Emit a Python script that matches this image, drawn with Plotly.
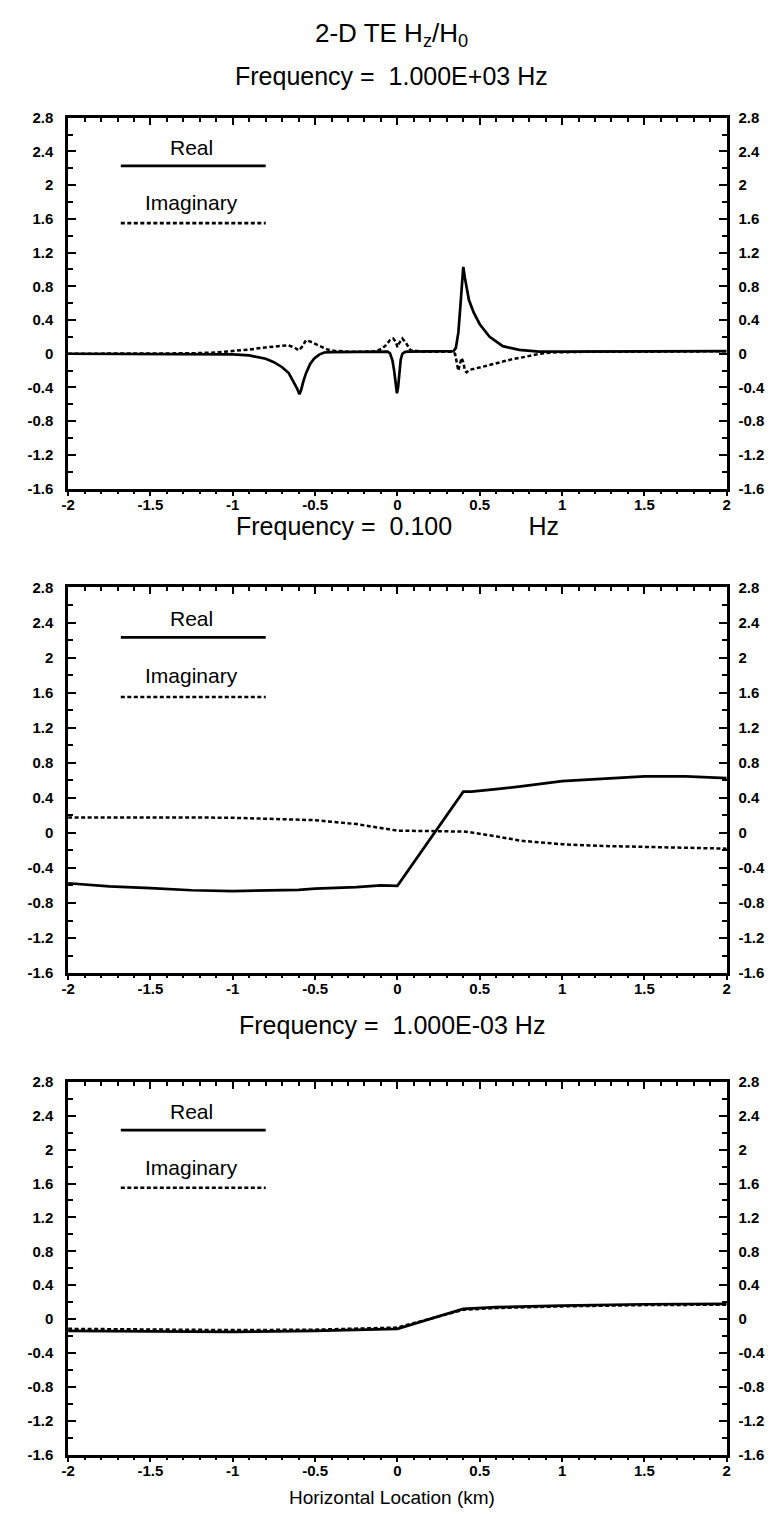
import plotly.graph_objects as go

# ---- Hz/H0 profiles across the 2-D TE model (x in km) ----
# f = 1.000E+03 Hz
X_F1_REAL = [-2.0, -1.5, -1.2, -1.0, -0.9, -0.8, -0.75, -0.70, -0.66, -0.63, -0.61, -0.595,
             -0.585, -0.57, -0.555, -0.53, -0.505, -0.475, -0.445, -0.40, -0.3, -0.2, -0.1,
             -0.06, -0.045, -0.03, -0.02, -0.01, -0.003, 0.004, 0.011, 0.02, 0.03, 0.045,
             0.06, 0.1, 0.2, 0.30, 0.34, 0.355, 0.37, 0.38, 0.39, 0.40, 0.41, 0.42, 0.434,
             0.463, 0.50, 0.56, 0.64, 0.74, 0.86, 1.0, 1.5, 2.0]
HZ_F1_REAL = [0.0, 0.0, -0.002, -0.008, -0.02, -0.06, -0.1, -0.16, -0.23, -0.33, -0.41, -0.48,
              -0.43, -0.32, -0.23, -0.12, -0.055, -0.01, 0.015, 0.02, 0.02, 0.02, 0.025,
              0.025, 0.005, -0.08, -0.2, -0.36, -0.47, -0.4, -0.2, -0.07, 0.0, 0.02,
              0.025, 0.025, 0.025, 0.025, 0.03, 0.07, 0.25, 0.5, 0.82, 1.03, 0.9, 0.78, 0.64,
              0.49, 0.35, 0.2, 0.09, 0.045, 0.025, 0.025, 0.025, 0.03]
X_F1_IMAG = [-2.0, -1.5, -1.25, -1.1, -1.0, -0.9, -0.8, -0.72, -0.665, -0.625, -0.6, -0.58,
             -0.555, -0.53, -0.505, -0.465, -0.425, -0.385, -0.3, -0.2, -0.13, -0.096,
             -0.07, -0.046, -0.025, -0.01, 0.0, 0.012, 0.03, 0.048, 0.065, 0.08, 0.15, 0.25,
             0.33, 0.35, 0.36, 0.37, 0.38, 0.39, 0.40, 0.41, 0.42, 0.44, 0.527, 0.6, 0.687,
             0.78, 0.85, 0.93, 1.2, 1.6, 2.0]
HZ_F1_IMAG = [0.0, 0.0, 0.005, 0.015, 0.03, 0.05, 0.075, 0.095, 0.1, 0.075, 0.04, 0.08,
              0.16, 0.145, 0.12, 0.08, 0.05, 0.035, 0.025, 0.025, 0.03, 0.06,
              0.1, 0.16, 0.18, 0.14, 0.08, 0.13, 0.18, 0.14, 0.08, 0.04, 0.025, 0.025,
              0.025, 0.0, -0.1, -0.2, -0.12, -0.05, -0.1, -0.2, -0.22, -0.19, -0.15, -0.11,
              -0.07, -0.035, -0.005, 0.015, 0.025, 0.025, 0.03]

# f = 0.100 Hz
X_F2 = [-2.0, -1.75, -1.5, -1.25, -1.0, -0.75, -0.6, -0.5, -0.25, -0.1, 0.0, 0.4, 0.45,
        0.6, 0.75, 1.0, 1.25, 1.5, 1.75, 2.0]
HZ_F2_REAL = [-0.575, -0.61, -0.63, -0.655, -0.665, -0.66, -0.65, -0.636, -0.62, -0.6,
              -0.605, 0.47, 0.47, 0.5, 0.53, 0.59, 0.62, 0.645, 0.645, 0.625]
HZ_F2_IMAG = [0.175, 0.178, 0.178, 0.176, 0.172, 0.16, 0.15, 0.145, 0.1, 0.05,
              0.025, 0.015, 0.005, -0.04, -0.09, -0.13, -0.15, -0.16, -0.17, -0.18]

# f = 1.000E-03 Hz
X_F3 = [-2.0, -1.5, -1.0, -0.5, 0.0, 0.4, 0.6, 1.0, 1.5, 2.0]
HZ_F3_REAL = [-0.14, -0.145, -0.15, -0.14, -0.115, 0.12, 0.14, 0.16, 0.175, 0.18]
HZ_F3_IMAG = [-0.115, -0.125, -0.13, -0.125, -0.1, 0.11, 0.13, 0.15, 0.165, 0.17]

PANELS = [
    ("Frequency =  1.000E+03 Hz", X_F1_REAL, HZ_F1_REAL, X_F1_IMAG, HZ_F1_IMAG),
    ("Frequency =  0.100" + "\u00a0" * 11 + "Hz", X_F2, HZ_F2_REAL, X_F2, HZ_F2_IMAG),
    ("Frequency =  1.000E-03 Hz", X_F3, HZ_F3_REAL, X_F3, HZ_F3_IMAG),
]

Y_TICKS = [-1.6, -1.2, -0.8, -0.4, 0.0, 0.4, 0.8, 1.2, 1.6, 2.0, 2.4, 2.8]
Y_TICK_TEXT = ["-1.6", "-1.2", "-0.8", "-0.4", "0", "0.4", "0.8", "1.2", "1.6", "2", "2.4", "2.8"]
X_TICKS = [-2.0, -1.5, -1.0, -0.5, 0.0, 0.5, 1.0, 1.5, 2.0]
X_TICK_TEXT = ["-2", "-1.5", "-1", "-0.5", "0", "0.5", "1", "1.5", "2"]
SERIES_NAMES = ["Real", "Imaginary"]

W, H = 780, 1519
FONT = "Liberation Sans"
INK = "#000000"
IMAG_DASH = "4px,2.5px"


def py(px):
    """Pixel row -> paper fraction."""
    return 1 - px / H


X_DOMAIN = [62 / W, 730 / W]
PANEL_ROWS = [(110, 485), (585, 975), (1085, 1462)]
TITLE_ROWS = [68, 523, 1028]
TITLE_X = [0.5, 0.508, 0.5]

fig = go.Figure()
layout = dict(
    width=W, height=H,
    margin=dict(l=0, r=0, t=0, b=0),
    paper_bgcolor="white", plot_bgcolor="white",
    showlegend=False,
    font=dict(family=FONT, color=INK),
)
annotations = []
shapes = []

tick_font = dict(family=FONT, size=15, color=INK, weight="bold")
minor_x = dict(tickmode="linear", tick0=-2, dtick=0.1, ticklen=4, tickwidth=1.6,
               tickcolor=INK, showgrid=False)

for i, (title, xr, yr, xi, yi) in enumerate(PANELS):
    n = i + 1
    sfx = "" if n == 1 else str(n)
    xa, ya = "x" + sfx, "y" + sfx
    x_top, x_tick, y_right = f"x{n + 3}", f"x{n + 6}", f"y{n + 3}"
    top, bottom = PANEL_ROWS[i]
    ydom = [py(bottom), py(top)]

    fig.add_trace(go.Scatter(x=xr, y=yr, mode="lines", xaxis=xa, yaxis=ya,
                             line=dict(color=INK, width=2.7)))
    fig.add_trace(go.Scatter(x=xi, y=yi, mode="lines", xaxis=xa, yaxis=ya,
                             line=dict(color=INK, width=2.5, dash=IMAG_DASH)))
    # empty traces so the frame axes (top, bottom ticks, right) get their own subplots
    for ax_x, ax_y in [(x_top, ya), (x_tick, ya), (xa, y_right)]:
        fig.add_trace(go.Scatter(x=[None], y=[None], mode="lines", xaxis=ax_x,
                                 yaxis=ax_y, hoverinfo="skip"))

    # bottom x axis: line and labels
    layout[f"xaxis{n}"] = dict(
        domain=X_DOMAIN, anchor=ya, range=[-2, 2], showgrid=False, zeroline=False,
        showline=True, linecolor=INK, linewidth=3.2,
        tickmode="array", tickvals=X_TICKS, ticktext=X_TICK_TEXT,
        ticks="", tickfont=tick_font,
    )
    # bottom x axis: outward ticks
    layout[f"xaxis{n + 6}"] = dict(
        domain=X_DOMAIN, anchor=ya, overlaying=xa, side="bottom", range=[-2, 2],
        showgrid=False, zeroline=False, showline=False, showticklabels=False,
        tickmode="array", tickvals=X_TICKS,
        ticks="outside", ticklen=6, tickwidth=2, tickcolor=INK,
        minor=dict(ticks="outside", **minor_x),
    )
    # top x axis: inward ticks only
    layout[f"xaxis{n + 3}"] = dict(
        domain=X_DOMAIN, anchor=ya, overlaying=xa, side="top", range=[-2, 2],
        showgrid=False, zeroline=False, showline=True, linecolor=INK, linewidth=2.6,
        tickmode="array", tickvals=X_TICKS, showticklabels=False,
        ticks="inside", ticklen=7, tickwidth=2, tickcolor=INK,
        minor=dict(ticks="inside", **minor_x),
    )
    yax_common = dict(
        domain=ydom, range=[-1.6, 2.8], showgrid=False, zeroline=False,
        showline=True, linecolor=INK, linewidth=2.6,
        tickmode="array", tickvals=Y_TICKS, ticktext=Y_TICK_TEXT,
        ticks="inside", ticklen=8, tickwidth=2, tickcolor=INK, tickfont=tick_font,
        minor=dict(tickmode="linear", tick0=-1.6, dtick=0.2, ticks="inside",
                   ticklen=5, tickwidth=1.6, tickcolor=INK, showgrid=False),
    )
    layout[f"yaxis{n}"] = dict(anchor=xa, side="left", ticklabelstandoff=9, **yax_common)
    layout[f"yaxis{n + 3}"] = dict(anchor=xa, side="right", overlaying=ya,
                                   ticklabelstandoff=6, **yax_common)

    # frequency heading
    annotations.append(dict(text=title, x=TITLE_X[i], y=py(TITLE_ROWS[i]), xref="paper",
                            yref="paper", xanchor="center", yanchor="middle",
                            showarrow=False, font=dict(family=FONT, size=25, color=INK)))

    # in-panel key
    key_x0, key_x1, key_xc = -1.68, -0.80, -1.25
    for name, ty, ly, dash in [(SERIES_NAMES[0], 2.45, 2.23, "solid"),
                               (SERIES_NAMES[1], 1.79, 1.55, IMAG_DASH)]:
        annotations.append(dict(text=name, x=key_xc, y=ty, xref=xa, yref=ya,
                                xanchor="center", yanchor="middle", showarrow=False,
                                font=dict(family=FONT, size=21, color=INK)))
        shapes.append(dict(type="line", xref=xa, yref=ya, x0=key_x0, x1=key_x1,
                           y0=ly, y1=ly, line=dict(color=INK, width=2.7, dash=dash)))

annotations.append(dict(text="2-D TE H<sub>z</sub>/H<sub>0</sub>", x=0.5, y=py(26),
                        xref="paper", yref="paper", xanchor="center", yanchor="middle",
                        showarrow=False, font=dict(family=FONT, size=26, color=INK)))
annotations.append(dict(text="Horizontal Location (km)", x=0.5, y=py(1505),
                        xref="paper", yref="paper", xanchor="center", yanchor="middle",
                        showarrow=False, font=dict(family=FONT, size=19, color=INK)))

layout["annotations"] = annotations
layout["shapes"] = shapes
fig.update_layout(**layout)
fig.write_html("out.html")
